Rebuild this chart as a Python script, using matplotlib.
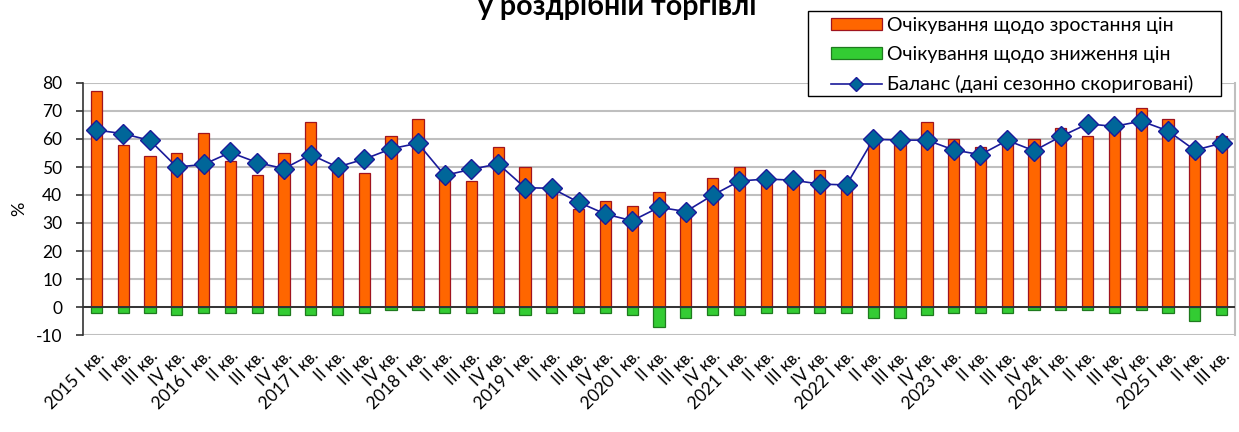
import matplotlib
matplotlib.use("Agg")
import matplotlib.pyplot as plt
from matplotlib.lines import Line2D
from matplotlib.patches import Patch, Rectangle
import numpy as np

plt.rcParams['font.family'] = ['Lato', 'DejaVu Sans']
plt.rcParams['axes.unicode_minus'] = False

years = ["2015", "2016", "2017", "2018", "2019", "2020", "2021", "2022", "2023", "2024", "2025"]
quarters = ["I кв.", "II кв.", "III кв.", "IV кв."]
labels = []
for y in years:
    for qi, q in enumerate(quarters):
        if y == "2025" and qi > 2:
            break
        labels.append(f"{y} {q}" if qi == 0 else q)

increase = [77, 58, 54, 55, 62, 52, 47, 55, 66, 50, 48, 61,
            67, 47, 45, 57, 50, 42, 35, 38, 36, 41, 34, 46,
            50, 46, 45, 49, 45, 60, 60, 66, 60, 57, 60, 60,
            64, 61, 66, 71, 67, 56, 61]
decrease = [-2, -2, -2, -3, -2, -2, -2, -3, -3, -3, -2, -1,
            -1, -2, -2, -2, -3, -2, -2, -2, -3, -7, -4, -3,
            -3, -2, -2, -2, -2, -4, -4, -3, -2, -2, -2, -1,
            -1, -1, -2, -1, -2, -5, -3]
balance = [63.2, 61.9, 59.5, 50.0, 50.9, 55.2, 51.6, 49.4, 54.4, 50.0, 52.8, 56.5,
           58.5, 47.0, 49.2, 51.1, 42.6, 42.4, 37.4, 33.2, 30.8, 35.6, 34.1, 39.9,
           45.0, 45.7, 45.3, 43.9, 43.6, 59.9, 59.6, 59.6, 56.1, 54.4, 59.5, 55.8,
           60.9, 65.4, 64.5, 66.4, 62.9, 56.0, 58.5]

legend_labels = ["Очікування щодо зростання цін",
                 "Очікування щодо зниження цін",
                 "Баланс (дані сезонно скориговані)"]
title = "у роздрібній торгівлі"

ORANGE = "#FF6600"
ORANGE_EDGE = "#A0141E"
GREEN = "#33CC33"
GREEN_EDGE = "#1E7A1E"
LINE = "#1A1A9A"
MARK = "#006699"
GRID = "#BFBFBF"

W, H = 1239, 432
fig = plt.figure(figsize=(W / 100, H / 100), dpi=100)
ax = fig.add_axes([83/W, 1-335/H, (1235-83)/W, (335-83)/H])

x = np.arange(len(labels))
ax.bar(x, increase, width=0.42, color=ORANGE, edgecolor=ORANGE_EDGE, linewidth=0.9, zorder=3)
ax.bar(x, decrease, width=0.42, color=GREEN, edgecolor=GREEN_EDGE, linewidth=0.9, zorder=3)
ax.axhline(0, color="#333333", linewidth=1.4, zorder=4)
ax.plot(x, balance, color=LINE, linewidth=1.2, marker="D", markersize=10,
        markerfacecolor=MARK, markeredgecolor=LINE, markeredgewidth=1.0, zorder=5)

ax.set_xlim(-0.5, len(labels) - 0.5)
ax.set_ylim(-10, 80)
ax.set_yticks(np.arange(-10, 81, 10))
ax.yaxis.grid(True, color=GRID, linewidth=1.5, zorder=0)
ax.set_axisbelow(True)
ax.set_xticks(x)
ax.set_xticklabels(labels, rotation=45, ha="right", rotation_mode="anchor", fontsize=12.5)
ax.tick_params(axis="x", length=0, pad=9)
ax.tick_params(axis="y", length=5, width=1.2, color="#333333", labelsize=12.5, pad=10, direction="out")
ax.set_ylabel("%", fontsize=13, labelpad=6)

for s in ["top", "bottom"]:
    ax.spines[s].set_visible(False)
ax.spines["right"].set_color(GRID)
ax.spines["right"].set_linewidth(1.5)
ax.spines["left"].set_color("#333333")
ax.spines["left"].set_linewidth(1.2)

fig.text(617/W, 1-15/H, title, ha="center", va="baseline", fontsize=20.5, fontweight="bold")

# legend frame (Excel-style, wide padding)
frame = Rectangle((808/W, 1-96/H), (1221-808)/W, (96-11)/H, transform=fig.transFigure,
                  facecolor="white", edgecolor="black", linewidth=1.0, zorder=4)
fig.patches.append(frame)

handles = [Patch(facecolor=ORANGE, edgecolor=ORANGE_EDGE, linewidth=0.9),
           Patch(facecolor=GREEN, edgecolor=GREEN_EDGE, linewidth=0.9),
           Line2D([0], [0], color=LINE, linewidth=1.2, marker="D", markersize=7,
                  markerfacecolor=MARK, markeredgecolor=LINE)]
leg = fig.legend(handles, legend_labels, loc="upper left",
                 bbox_to_anchor=(831/W, 1-17/H), fontsize=14,
                 frameon=False, handlelength=2.6, handleheight=0.55, handletextpad=0.3,
                 labelspacing=0.62, borderpad=0, borderaxespad=0)
leg.set_zorder(5)

fig.savefig("out.png", dpi=100)
